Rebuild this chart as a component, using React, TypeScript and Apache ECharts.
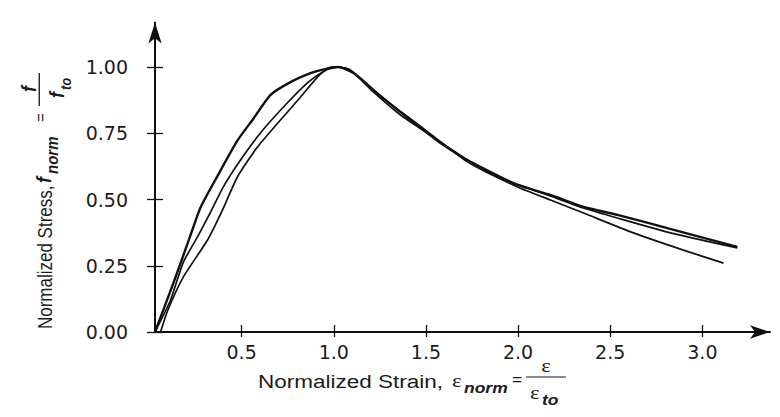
import React, { useEffect, useRef } from "react";
import * as echarts from "echarts";

// Tick values
const xTicks = [0.5, 1.0, 1.5, 2.0, 2.5, 3.0];
const yTicks = [0, 0.25, 0.5, 0.75, 1.0];

// Three normalized stress–strain curves (strain, stress)
const curveA: [number, number][] = [
  [0.03, 0], [0.13, 0.185], [0.22, 0.36], [0.277, 0.47], [0.37, 0.59],
  [0.477, 0.722], [0.564, 0.805], [0.657, 0.895], [0.765, 0.943], [0.874, 0.977],
  [0.94, 0.99], [1.025, 1.0], [1.107, 0.977], [1.215, 0.913], [1.362, 0.83],
  [1.487, 0.762], [1.579, 0.713], [1.725, 0.649], [1.905, 0.585], [1.997, 0.555],
  [2.176, 0.517], [2.355, 0.472], [2.539, 0.442], [2.81, 0.392], [3.19, 0.321],
];
const curveB: [number, number][] = [
  [0.03, 0], [0.114, 0.12], [0.184, 0.264], [0.26, 0.358], [0.33, 0.45],
  [0.4, 0.547], [0.494, 0.649], [0.602, 0.751], [0.727, 0.849], [0.857, 0.94],
  [0.94, 0.981], [1.01, 1.0], [1.09, 0.989], [1.215, 0.906], [1.362, 0.819],
  [1.54, 0.736], [1.725, 0.649], [1.905, 0.581], [2.176, 0.513], [2.355, 0.468],
  [2.539, 0.43], [2.81, 0.377], [3.19, 0.317],
];
const curveC: [number, number][] = [
  [0.06, 0], [0.1, 0.083], [0.184, 0.208], [0.315, 0.347], [0.396, 0.46],
  [0.477, 0.585], [0.586, 0.698], [0.711, 0.8], [0.82, 0.887], [0.912, 0.962],
  [0.982, 1.0], [1.063, 0.996], [1.145, 0.958], [1.28, 0.875], [1.47, 0.777],
  [1.725, 0.642], [1.997, 0.547], [2.176, 0.498], [2.355, 0.449], [2.626, 0.374],
  [2.897, 0.309], [3.115, 0.26],
];

const INK = "#111";
const TXT = "#1c1c1c";
const SANS = "'Liberation Sans', Arial, sans-serif";
const SERIF = "'Liberation Serif', 'Times New Roman', serif";

export default function App() {
  const ref = useRef<HTMLDivElement>(null);
  useEffect(() => {
    if (!ref.current) return;
    const chart = echarts.init(ref.current, undefined, { renderer: "svg" });
    const xMin = 0.03, xMax = 3.367, yMin = 0, yMax = 1.168;
    const lineS = (data: [number, number][], w: number) => ({
      type: "line",
      data,
      showSymbol: false,
      smooth: 0.2,
      xAxisIndex: 0,
      yAxisIndex: 0,
      lineStyle: { color: INK, width: w },
      silent: true,
    });
    const T = (text: string, x: number, y: number, extra: any = {}) => ({
      type: "text",
      x,
      y,
      style: {
        text,
        fill: TXT,
        fontFamily: SANS,
        fontSize: 18,
        align: "left",
        verticalAlign: "middle",
        ...extra,
      },
    });
    chart.setOption({
      animation: false,
      backgroundColor: "#fff",
      grid: { left: 155, right: 10, top: 22.5, bottom: 85 },
      xAxis: [
        {
          type: "value", min: xMin, max: xMax, position: "bottom",
          axisLine: { show: true, onZero: false, lineStyle: { color: INK, width: 2 }, symbol: ["none", "arrow"], symbolSize: [10, 20] },
          axisTick: { show: true, inside: true, length: 7, lineStyle: { color: INK, width: 1.3 }, customValues: xTicks },
          axisLabel: { customValues: xTicks, formatter: (v: number) => v.toFixed(1), color: TXT, fontFamily: "'DejaVu Sans', sans-serif", fontSize: 19, margin: 10 },
          splitLine: { show: false },
        },
        {
          type: "value", min: xMin, max: xMax, position: "bottom",
          axisLine: { show: false, onZero: false },
          axisTick: { show: true, inside: false, length: 5, lineStyle: { color: INK, width: 1.3 }, customValues: xTicks },
          axisLabel: { show: false },
          splitLine: { show: false },
        },
      ],
      yAxis: [
        {
          type: "value", min: yMin, max: yMax, position: "left",
          axisLine: { show: true, onZero: false, lineStyle: { color: INK, width: 2 }, symbol: ["none", "arrow"], symbolSize: [10, 21] },
          axisTick: { show: true, inside: true, length: 8, lineStyle: { color: INK, width: 1.3 }, customValues: yTicks },
          axisLabel: { customValues: yTicks, formatter: (v: number) => v.toFixed(2), color: TXT, fontFamily: "'DejaVu Sans', sans-serif", fontSize: 19, margin: 27 },
          splitLine: { show: false },
        },
        {
          type: "value", min: yMin, max: yMax, position: "left",
          axisLine: { show: false, onZero: false },
          axisTick: { show: true, inside: false, length: 8, lineStyle: { color: INK, width: 1.3 }, customValues: yTicks },
          axisLabel: { show: false },
          splitLine: { show: false },
        },
      ],
      series: [lineS(curveA, 2.4), lineS(curveB, 1.7), lineS(curveC, 1.7)],
      graphic: [
        // X axis title
        { ...T("Normalized Strain,", 258, 382), scaleX: 1.25 },
        { ...T("\u03b5", 452, 381, { fontFamily: SERIF }), scaleX: 1.25 },
        { ...T("norm", 464, 388, { fontSize: 14, fontWeight: "bold", fontStyle: "italic" }), scaleX: 1.25 },
        { ...T("=", 512, 380, { fontSize: 14 }), scaleX: 1.25 },
        { type: "line", shape: { x1: 526, y1: 377, x2: 566, y2: 377 }, style: { stroke: TXT, lineWidth: 1.2 } },
        { ...T("\u03b5", 546, 366, { fontFamily: SERIF, align: "center" }), scaleX: 1.25 },
        { ...T("\u03b5", 530, 393, { fontFamily: SERIF }), scaleX: 1.25 },
        { ...T("to", 542, 400, { fontSize: 14, fontWeight: "bold", fontStyle: "italic" }), scaleX: 1.25 },
        // Y axis title (rotated)
        {
          type: "group",
          x: 45,
          y: 329,
          rotation: Math.PI / 2,
          scaleY: 1.15,
          children: [
            T("Normalized Stress,", 0, 0, { fontSize: 17 }),
            T("f", 146, -1, { fontSize: 18, fontStyle: "italic", fontWeight: "bold" }),
            T("norm", 155, 6, { fontSize: 15, fontStyle: "italic", fontWeight: "bold" }),
            T("=", 207, -5, { fontSize: 15 }),
            { type: "line", shape: { x1: 223, y1: -5, x2: 256, y2: -5 }, style: { stroke: TXT, lineWidth: 1.2 } },
            T("f", 240, -14, { fontSize: 18, fontStyle: "italic", fontWeight: "bold", align: "center" }),
            T("f", 231, 10, { fontSize: 18, fontStyle: "italic", fontWeight: "bold" }),
            T("to", 239, 18, { fontSize: 13, fontStyle: "italic", fontWeight: "bold" }),
          ],
        },
      ],
    });
    return () => chart.dispose();
  }, []);
  return <div ref={ref} style={{ position: "absolute", left: 0, top: 0, width: 780, height: 417 }} />;
}
